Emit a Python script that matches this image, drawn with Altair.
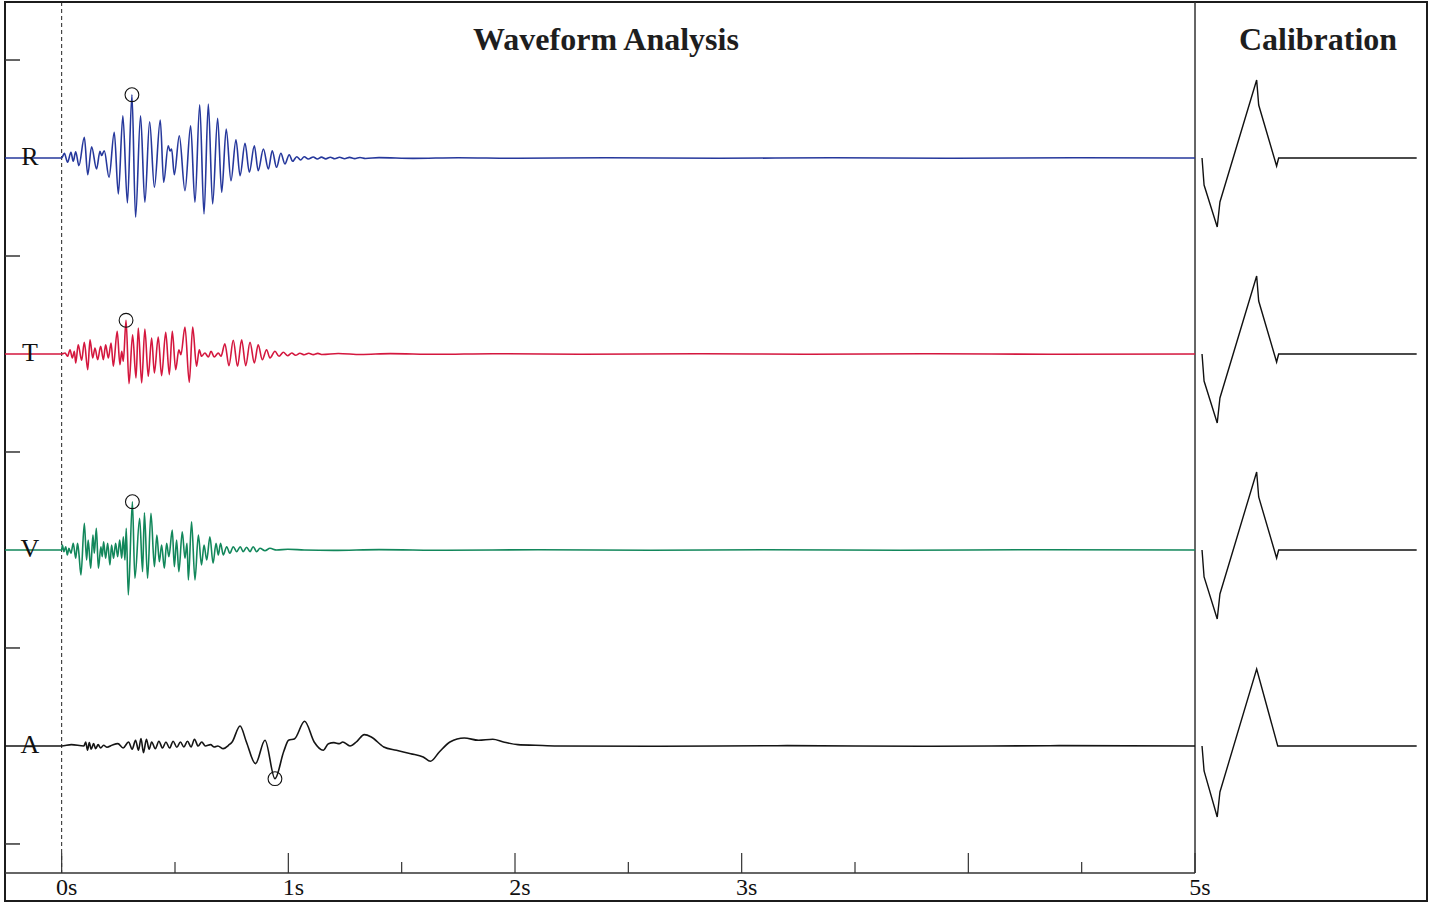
import altair as alt
import pandas as pd

# Picked extrema of each component: (time in s, amplitude in counts)
R_PICKS = [
    (-0.25, 0), (0.000, 0), (0.012, 4.7), (0.026, -4.3), (0.041, 5.7), (0.051, -3.3),
    (0.062, 6.3), (0.076, -7.7), (0.100, 20.7), (0.115, -16.7), (0.132, 11.3),
    (0.154, -11), (0.169, 6.7), (0.176, 2.5), (0.188, 7.3), (0.209, -19.3),
    (0.232, 25.7), (0.250, -36), (0.270, 42.3), (0.290, -45), (0.310, 63.3),
    (0.326, -59.3), (0.348, 42.3), (0.367, -44.3), (0.388, 36.3), (0.409, -29.3),
    (0.435, 38), (0.450, -24.3), (0.470, 12.3), (0.478, 7), (0.485, 9),
    (0.497, -16.7), (0.519, 22.3), (0.544, -32.7), (0.569, 32.3), (0.588, -44.3),
    (0.609, 53.3), (0.628, -56), (0.647, 54), (0.666, -46), (0.688, 39.7),
    (0.706, -34.3), (0.726, 29), (0.747, -22.7), (0.769, 18.3), (0.787, -17.7),
    (0.809, 14.7), (0.828, -14.3), (0.850, 12.3), (0.867, -12.7), (0.890, 9),
    (0.912, -11), (0.929, 7.3), (0.948, -9.3), (0.967, 4.7), (0.985, -6),
    (1.004, 3.3), (1.019, -3.3), (1.037, 1.3), (1.054, -2), (1.070, 1.3),
    (1.088, -1), (1.110, 1.0), (1.128, -1.0), (1.146, 0.9), (1.165, -0.9),
    (1.185, 0.8), (1.205, -0.8), (1.226, 0.7), (1.248, -0.7), (1.270, 0.6),
    (1.293, -0.6), (1.316, 0.5), (1.340, -0.5), (1.40, 0.4), (1.55, -0.4),
    (1.75, 0.3), (2.0, -0.3), (2.4, 0.3), (2.9, -0.3), (3.4, 0.3), (3.9, -0.3),
    (4.5, 0.3), (5.0, 0),
]

T_PICKS = [
    (-0.25, 0), (0.000, 0), (0.015, 1), (0.026, -2.3), (0.037, 4.3), (0.047, -4),
    (0.056, 2.7), (0.062, -9), (0.073, 9.3), (0.088, -6.3), (0.100, 11.7),
    (0.115, -15.7), (0.125, 14.3), (0.137, -4), (0.147, 6), (0.159, -5.7),
    (0.172, 7.7), (0.184, -5.7), (0.194, 9.3), (0.206, -4), (0.218, 11),
    (0.228, -12.3), (0.245, 22.7), (0.257, -10.7), (0.265, 2.7), (0.272, -7.3),
    (0.284, 33.7), (0.297, -29.7), (0.313, 19.3), (0.328, -24), (0.338, 26),
    (0.353, -29), (0.367, 25), (0.382, -22.3), (0.397, 16), (0.409, -19),
    (0.426, 17), (0.441, -21.7), (0.459, 21.7), (0.475, -20.7), (0.488, 22.7),
    (0.503, -15.7), (0.517, 4.3), (0.526, -0.7), (0.544, 27), (0.563, -28.3),
    (0.578, 27), (0.595, -12.3), (0.607, 4.3), (0.617, -2.3), (0.632, 1),
    (0.647, -3), (0.659, 2.7), (0.673, -3), (0.691, 1), (0.703, -2.3),
    (0.720, 10.3), (0.738, -11.7), (0.757, 13.7), (0.776, -12.3), (0.794, 14.3),
    (0.812, -11.7), (0.831, 11.7), (0.850, -9), (0.867, 9.3), (0.885, -5.7),
    (0.904, 4.3), (0.919, -4), (0.941, 2.7), (0.959, -2.3), (0.978, 1.7),
    (0.997, -1.7), (1.015, 1), (1.032, -1.3), (1.051, 0.7), (1.070, -0.8),
    (1.090, 0.7), (1.110, -0.6), (1.130, 0.6), (1.150, -0.5), (1.22, 0.5),
    (1.32, -0.5), (1.45, 0.4), (1.65, -0.3), (1.9, 0.3), (2.3, -0.3), (2.8, 0.3),
    (3.3, -0.3), (3.8, 0.3), (4.4, -0.3), (5.0, 0),
]

V_PICKS = [
    (-0.25, 0), (0.000, 0), (0.003, 5), (0.010, -1.7), (0.018, 3.3), (0.025, -5),
    (0.032, 1.7), (0.041, -3.3), (0.051, 6.7), (0.062, -8.3), (0.070, 6.7),
    (0.076, -3.3), (0.085, -25), (0.100, 26.7), (0.110, -10), (0.117, 10),
    (0.128, -18.3), (0.138, 15), (0.144, -3.3), (0.153, 21.7), (0.162, -18.3),
    (0.173, 3.3), (0.179, -6.7), (0.185, 8.3), (0.194, -8.3), (0.203, 6.7),
    (0.213, -15), (0.220, 5), (0.229, -8.3), (0.238, 6.7), (0.247, -6.7),
    (0.256, 10), (0.265, -8.3), (0.272, 13.3), (0.279, -10), (0.285, 21.7),
    (0.294, -45), (0.312, 48.3), (0.323, -28.3), (0.344, 31.7), (0.357, -21.7),
    (0.365, 37.3), (0.379, -28.3), (0.394, 36.7), (0.409, -16.7), (0.420, 15),
    (0.431, -11.7), (0.441, 5), (0.453, -18.3), (0.463, 6.7), (0.473, -6.7),
    (0.488, 20), (0.497, -16.7), (0.507, 10), (0.517, -21.7), (0.532, 18.3),
    (0.544, -8.3), (0.553, 6.7), (0.559, -30), (0.573, 28.3), (0.588, -30),
    (0.603, 15), (0.617, -15), (0.628, 5), (0.640, -10), (0.654, 13.3),
    (0.668, -13.3), (0.681, 6.7), (0.691, -5), (0.701, 6.7), (0.713, -5),
    (0.728, 3.3), (0.742, -3.3), (0.757, 3.3), (0.772, -1.7), (0.788, 3.3),
    (0.801, -1.7), (0.816, 2.7), (0.831, -1.7), (0.845, 3.3), (0.860, -1.7),
    (0.875, 1.7), (0.897, -0.7), (0.919, 1.7), (0.948, 0), (0.998, 0.7),
    (1.070, 0), (1.2, -0.4), (1.4, 0.4), (1.7, -0.3), (2.1, 0.3), (2.6, -0.3),
    (3.1, 0.3), (3.7, -0.3), (4.3, 0.3), (5.0, 0),
]

A_PICKS = [
    (-0.25, 0), (0.000, 0), (0.043, 1.3), (0.098, 0), (0.106, 4), (0.114, -4.3),
    (0.122, 3.3), (0.130, -3.3), (0.141, 2.3), (0.150, -2.7), (0.161, 1.3),
    (0.172, -2), (0.185, 0.7), (0.200, -1.3), (0.224, 1), (0.248, 2.3),
    (0.271, -2), (0.295, 4), (0.311, -3.3), (0.326, 5.7), (0.339, -4.3),
    (0.350, 7.3), (0.361, -6.7), (0.374, 6.7), (0.386, -3.3), (0.397, 4),
    (0.413, -2.7), (0.429, 4.7), (0.445, -2), (0.460, 4), (0.476, -2),
    (0.492, 4.7), (0.508, -1.3), (0.524, 4), (0.539, -1), (0.555, 4.7),
    (0.571, -1), (0.586, 6.7), (0.602, 0), (0.618, 4), (0.634, 0), (0.657, 1.3),
    (0.673, -1), (0.689, 0), (0.713, -2.7), (0.736, 0.7), (0.752, 4),
    (0.787, 20), (0.815, 4), (0.855, -17.7), (0.897, 5.7), (0.941, -32.7),
    (0.980, -5.3), (1.001, 5.7), (1.028, 7.3), (1.072, 24.7), (1.114, 4),
    (1.154, -4.3), (1.177, 2.3), (1.201, 3.3), (1.225, 2.3), (1.240, 4),
    (1.272, 0), (1.303, 4.7), (1.335, 11.3), (1.366, 9), (1.421, -1),
    (1.477, -4.3), (1.540, -7.7), (1.595, -11), (1.627, -15.3), (1.666, -6),
    (1.713, 4), (1.776, 8), (1.839, 5.7), (1.902, 6.7), (1.949, 4), (2.013, 1.3),
    (2.091, 0.7), (2.186, 0), (2.6, -0.3), (3.2, 0.3), (3.8, -0.3), (4.4, 0.3),
    (5.0, 0),
]

CHANNELS = ["R", "T", "V", "A"]
COLORS = ["#26389c", "#d4173e", "#12875b", "#151515"]
PICKS = [R_PICKS, T_PICKS, V_PICKS, A_PICKS]

# Calibration pulse: (time after pulse start in s, amplitude in counts)
CAL_PULSE = [(0.0, 0), (0.009, -27), (0.067, -69), (0.079, -44), (0.241, 78),
             (0.250, 53), (0.329, -8), (0.338, 0), (0.947, 0)]
CAL_PULSE_A = [(0.0, 0), (0.009, -25), (0.067, -71), (0.079, -46), (0.241, 77),
               (0.334, 0), (0.947, 0)]

# Time axis
MAJOR_TICKS = [0, 1, 2, 3, 4, 5]
MINOR_TICKS = [0.5, 1.5, 2.5, 3.5, 4.5]
TICK_LABELS = ["0s", "1s", "2s", "3s", "5s"]
TICK_LABEL_TIMES = [0, 1, 2, 3, 5]

GAIN = 196.0                      # counts per trace lane
T_MIN, T_END, T_MAX = -0.25, 5.0, 6.0235
CAL_ORIGIN = 5.031                # where the calibration column starts
LANE_TOP, LANE_BOTTOM = -0.796, 3.791
AXIS_LANE = 3.648
MAJOR_LEN, MINOR_LEN = 0.102, 0.056
SERIF = "Liberation Serif"

x_scale = alt.Scale(domain=[T_MIN, T_MAX], nice=False, zero=False)
y_scale = alt.Scale(domain=[LANE_TOP, LANE_BOTTOM], nice=False, zero=False, reverse=True)

trace_rows, cal_rows, pick_rows = [], [], []
for lane, (ch, picks) in enumerate(zip(CHANNELS, PICKS)):
    for t, a in picks:
        trace_rows.append({"channel": ch, "t": t, "y": lane - a / GAIN})
    t_pk, a_pk = max(picks, key=lambda p: abs(p[1]))
    pick_rows.append({"channel": ch, "t": t_pk, "y": lane - a_pk / GAIN})
    pulse = CAL_PULSE_A if ch == "A" else CAL_PULSE
    for t, a in pulse:
        cal_rows.append({"channel": ch, "t": CAL_ORIGIN + t, "y": lane - a / GAIN})

traces_df = pd.DataFrame(trace_rows)
cal_df = pd.DataFrame(cal_rows)
picks_df = pd.DataFrame(pick_rows)
labels_df = pd.DataFrame({"channel": CHANNELS, "lane": list(range(len(CHANNELS)))})
sep_df = pd.DataFrame({"lane": [k - 0.5 for k in range(len(CHANNELS) + 1)]})

X = alt.X("t:Q", scale=x_scale, axis=None)
Y = alt.Y("y:Q", scale=y_scale, axis=None)

traces = alt.Chart(traces_df).mark_line(strokeWidth=1.6, interpolate="monotone").encode(
    x=X, y=Y,
    color=alt.Color("channel:N", scale=alt.Scale(domain=CHANNELS, range=COLORS), legend=None),
)

calibration = alt.Chart(cal_df).mark_line(strokeWidth=1.4, color="#111").encode(
    x=X, y=Y, detail="channel:N"
)

pick_marks = alt.Chart(picks_df).mark_point(
    shape="circle", size=190, filled=False, color="#111", strokeWidth=1.1, opacity=1
).encode(x=X, y=Y)

channel_labels = alt.Chart(labels_df).mark_text(
    font=SERIF, fontSize=26, color="#111", align="center", baseline="middle", dy=-1
).encode(x=alt.value(25), y=alt.Y("lane:Q", scale=y_scale, axis=None), text="channel:N")

separators = alt.Chart(sep_df).mark_rule(color="#333", strokeWidth=1.5).encode(
    x=alt.value(0), x2=alt.value(15), y=alt.Y("lane:Q", scale=y_scale, axis=None)
)

vert_df = pd.DataFrame({"t": [0.0, T_END], "y": [LANE_TOP, LANE_TOP],
                        "y2": [AXIS_LANE, AXIS_LANE], "kind": ["origin", "end"]})
origin_line = alt.Chart(vert_df[vert_df.kind == "origin"]).mark_rule(
    color="#222", strokeWidth=1, strokeDash=[4, 3]
).encode(x=X, y=Y, y2="y2:Q")
end_line = alt.Chart(vert_df[vert_df.kind == "end"]).mark_rule(
    color="#333", strokeWidth=1.5
).encode(x=X, y=Y, y2="y2:Q")

base_df = pd.DataFrame({"t": [T_MIN], "t2": [T_END], "y": [AXIS_LANE]})
time_axis = alt.Chart(base_df).mark_rule(color="#333", strokeWidth=1.5).encode(
    x=X, x2="t2:Q", y=Y
)

ticks_df = pd.DataFrame({
    "t": MAJOR_TICKS + MINOR_TICKS,
    "y": [AXIS_LANE] * (len(MAJOR_TICKS) + len(MINOR_TICKS)),
    "y2": [AXIS_LANE - MAJOR_LEN] * len(MAJOR_TICKS) + [AXIS_LANE - MINOR_LEN] * len(MINOR_TICKS),
})
ticks = alt.Chart(ticks_df).mark_rule(color="#333", strokeWidth=1.2).encode(
    x=X, y=Y, y2="y2:Q"
)

tick_labels = alt.Chart(pd.DataFrame({"t": TICK_LABEL_TIMES, "label": TICK_LABELS})).mark_text(
    font=SERIF, fontSize=24, color="#111", align="center", baseline="alphabetic", dx=5
).encode(x=X, y=alt.value(893), text="label:N")

titles = alt.Chart(pd.DataFrame({
    "title": ["Waveform Analysis", "Calibration"], "px": [601, 1313]
})).mark_text(
    font=SERIF, fontSize=32, fontWeight="bold", color="#1e1e1e",
    align="center", baseline="alphabetic"
).encode(x=alt.X("px:Q", scale=None, axis=None), y=alt.value(48), text="title:N")

chart = alt.layer(
    separators, origin_line, end_line, time_axis, ticks, tick_labels,
    traces, calibration, pick_marks, channel_labels, titles,
).properties(
    width=1422, height=899,
    autosize=alt.AutoSizeParams(type="none"),
    padding={"left": 5, "top": 2, "right": 5, "bottom": 2},
).configure_view(stroke="#1c1c1c", strokeWidth=2)

chart.save("out.html", embed_options={"renderer": "svg", "actions": False})
